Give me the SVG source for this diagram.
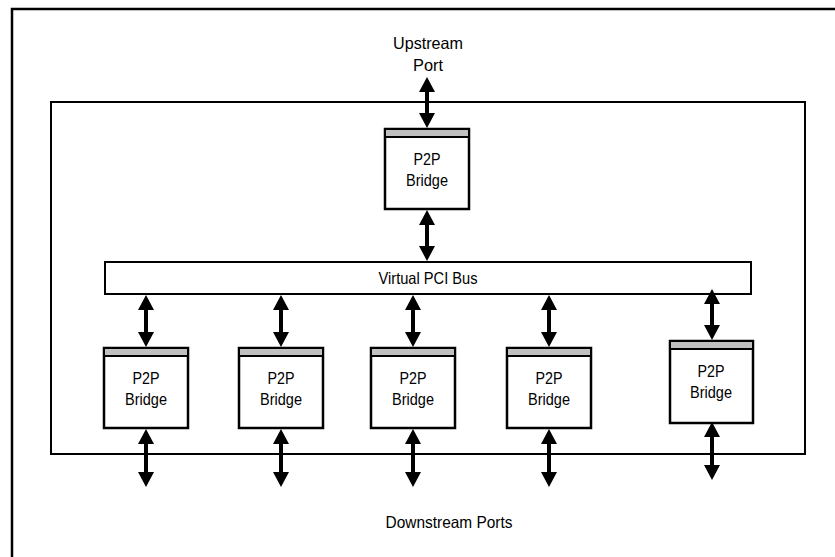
<svg xmlns="http://www.w3.org/2000/svg" width="835" height="557" viewBox="0 0 835 557">
<style>
.frame{fill:none;stroke:#000;stroke-width:2.5}
.box{fill:#fff;stroke:#000;stroke-width:2}
.br{fill:#fff;stroke:#000;stroke-width:2.5}
.bar{fill:#c0c0c0;stroke:#000;stroke-width:2}
.arr{fill:#000;stroke:none}
text{font-family:"Liberation Sans",Arial,sans-serif;font-size:16.5px;fill:#000;text-anchor:middle}
</style>
<rect width="835" height="557" fill="#fff"/>
<rect class="frame" x="12" y="9" width="830" height="560"/>
<rect class="box" x="51" y="102" width="754" height="352"/>
<g id="upstream-label"><text x="428" y="49" textLength="70" lengthAdjust="spacingAndGlyphs">Upstream</text><text x="428" y="71" textLength="30" lengthAdjust="spacingAndGlyphs">Port</text></g>
<g id="bus"><rect class="box" x="105" y="262" width="646" height="32"/><text x="428" y="284" textLength="99" lengthAdjust="spacingAndGlyphs">Virtual PCI Bus</text></g>
<g id="bridge-top"><rect class="br" x="385" y="129" width="84" height="80"/><rect class="bar" x="385" y="129" width="84" height="8"/><text x="427" y="165" textLength="27" lengthAdjust="spacingAndGlyphs">P2P</text><text x="427" y="186" textLength="42" lengthAdjust="spacingAndGlyphs">Bridge</text></g>
<g id="bridge-1"><rect class="br" x="104" y="348" width="84" height="80"/><rect class="bar" x="104" y="348" width="84" height="8"/><text x="146" y="384" textLength="27" lengthAdjust="spacingAndGlyphs">P2P</text><text x="146" y="405" textLength="42" lengthAdjust="spacingAndGlyphs">Bridge</text></g>
<g id="bridge-2"><rect class="br" x="239" y="348" width="84" height="80"/><rect class="bar" x="239" y="348" width="84" height="8"/><text x="281" y="384" textLength="27" lengthAdjust="spacingAndGlyphs">P2P</text><text x="281" y="405" textLength="42" lengthAdjust="spacingAndGlyphs">Bridge</text></g>
<g id="bridge-3"><rect class="br" x="371" y="348" width="84" height="80"/><rect class="bar" x="371" y="348" width="84" height="8"/><text x="413" y="384" textLength="27" lengthAdjust="spacingAndGlyphs">P2P</text><text x="413" y="405" textLength="42" lengthAdjust="spacingAndGlyphs">Bridge</text></g>
<g id="bridge-4"><rect class="br" x="507" y="348" width="84" height="80"/><rect class="bar" x="507" y="348" width="84" height="8"/><text x="549" y="384" textLength="27" lengthAdjust="spacingAndGlyphs">P2P</text><text x="549" y="405" textLength="42" lengthAdjust="spacingAndGlyphs">Bridge</text></g>
<g id="bridge-5"><rect class="br" x="670" y="341" width="83" height="82"/><rect class="bar" x="670" y="341" width="83" height="8"/><text x="711" y="377" textLength="27" lengthAdjust="spacingAndGlyphs">P2P</text><text x="711" y="398" textLength="42" lengthAdjust="spacingAndGlyphs">Bridge</text></g>
<g id="downstream-label"><text x="449" y="528" textLength="127" lengthAdjust="spacingAndGlyphs">Downstream Ports</text></g>
<g id="connectors" class="arr">
<path d="M427,77 l8,15 h-6 v21 h6 l-8,15 l-8,-15 h6 v-21 h-6 z"/>
<path d="M427,210 l8,15 h-6 v21 h6 l-8,15 l-8,-15 h6 v-21 h-6 z"/>
<path d="M146,295 l8,15 h-6 v22 h6 l-8,15 l-8,-15 h6 v-22 h-6 z"/>
<path d="M281,295 l8,15 h-6 v22 h6 l-8,15 l-8,-15 h6 v-22 h-6 z"/>
<path d="M413,295 l8,15 h-6 v22 h6 l-8,15 l-8,-15 h6 v-22 h-6 z"/>
<path d="M549,295 l8,15 h-6 v22 h6 l-8,15 l-8,-15 h6 v-22 h-6 z"/>
<path d="M712,289 l8,15 h-6 v21 h6 l-8,15 l-8,-15 h6 v-21 h-6 z"/>
<path d="M146,429 l8,15 h-6 v28 h6 l-8,15 l-8,-15 h6 v-28 h-6 z"/>
<path d="M281,429 l8,15 h-6 v28 h6 l-8,15 l-8,-15 h6 v-28 h-6 z"/>
<path d="M413,429 l8,15 h-6 v28 h6 l-8,15 l-8,-15 h6 v-28 h-6 z"/>
<path d="M549,429 l8,15 h-6 v28 h6 l-8,15 l-8,-15 h6 v-28 h-6 z"/>
<path d="M712,422 l8,15 h-6 v28 h6 l-8,15 l-8,-15 h6 v-28 h-6 z"/>
</g>
</svg>
